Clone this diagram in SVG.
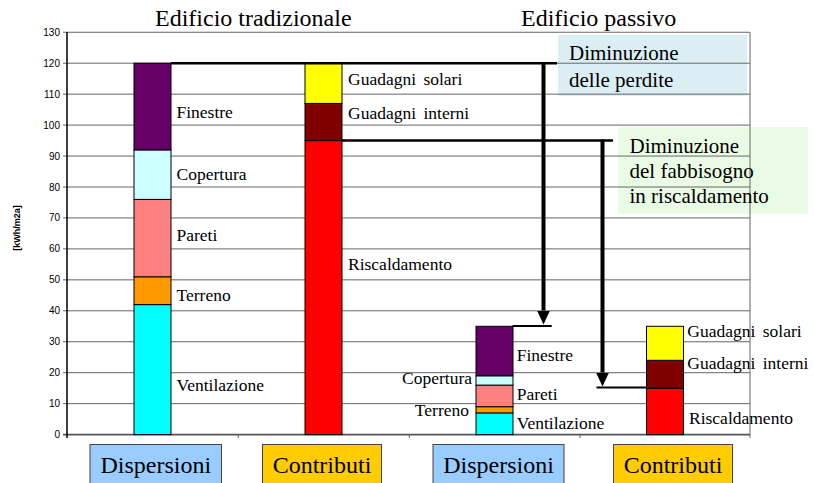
<svg xmlns="http://www.w3.org/2000/svg" width="814" height="483" viewBox="0 0 814 483">
<style>
.grid{stroke:#666;stroke-width:1;fill:none}
.axis{stroke:#000;stroke-width:1.5;fill:none}
.tick{font-family:"Liberation Sans",Arial,sans-serif;font-size:10px;fill:#000;text-anchor:end}
.ytitle{font-family:"Liberation Sans",Arial,sans-serif;font-size:9px;font-weight:bold;fill:#000;text-anchor:middle}
.lbl{font-family:"Liberation Serif","Times New Roman",serif;font-size:17.5px;fill:#000}
.ttl{font-family:"Liberation Serif","Times New Roman",serif;font-size:24px;fill:#000}
.box{font-family:"Liberation Serif","Times New Roman",serif;font-size:21px;fill:#000}
.cat{font-family:"Liberation Serif","Times New Roman",serif;font-size:24px;fill:#000;text-anchor:middle}
.seg{stroke:#000;stroke-width:1}
.thick{stroke:#000;fill:none}
.catbox{stroke:#444;stroke-width:1}
</style>
<defs>
<marker id="ah" markerUnits="userSpaceOnUse" markerWidth="14" markerHeight="14" refX="0" refY="6.5" orient="auto" viewBox="0 0 14 13">
<path d="M0,0 L14,6.5 L0,13 Z" fill="#000"/>
</marker>
</defs>
<rect width="814" height="483" fill="#fff"/>

<g id="titles">
<text class="ttl" x="155" y="26">Edificio tradizionale</text>
<text class="ttl" x="521" y="26">Edificio passivo</text>
</g>

<g id="note-perdite-bg"><rect x="558" y="35" width="189" height="61" fill="#DBEEF3"/></g>
<g id="note-fabbisogno-bg"><rect x="618" y="127" width="190" height="87" fill="#EAFBE5"/></g>

<g id="grid">
<line class="grid" x1="63" y1="32.25" x2="750" y2="32.25"/>
<line class="grid" x1="63" y1="63.2" x2="750" y2="63.2"/>
<line class="grid" x1="63" y1="94.15" x2="750" y2="94.15"/>
<line class="grid" x1="63" y1="125.1" x2="750" y2="125.1"/>
<line class="grid" x1="63" y1="156.05" x2="750" y2="156.05"/>
<line class="grid" x1="63" y1="187" x2="750" y2="187"/>
<line class="grid" x1="63" y1="217.95" x2="750" y2="217.95"/>
<line class="grid" x1="63" y1="248.9" x2="750" y2="248.9"/>
<line class="grid" x1="63" y1="279.85" x2="750" y2="279.85"/>
<line class="grid" x1="63" y1="310.8" x2="750" y2="310.8"/>
<line class="grid" x1="63" y1="341.75" x2="750" y2="341.75"/>
<line class="grid" x1="63" y1="372.7" x2="750" y2="372.7"/>
<line class="grid" x1="63" y1="403.65" x2="750" y2="403.65"/>
<line class="grid" x1="750" y1="32.25" x2="750" y2="434.6"/>
<line x1="63" y1="434.6" x2="750" y2="434.6" stroke="#555" stroke-width="1.8"/>
<line class="grid" x1="238.3" y1="434.6" x2="238.3" y2="438"/>
<line class="grid" x1="409.3" y1="434.6" x2="409.3" y2="438"/>
<line class="grid" x1="580" y1="434.6" x2="580" y2="438"/>
<line class="grid" x1="750" y1="434.6" x2="750" y2="438"/>
<line class="axis" x1="67" y1="32" x2="67" y2="438"/>
</g>

<g id="y-axis-labels">
<text class="tick" x="60" y="35.75">130</text>
<text class="tick" x="60" y="66.7">120</text>
<text class="tick" x="60" y="97.65">110</text>
<text class="tick" x="60" y="128.6">100</text>
<text class="tick" x="60" y="159.55">90</text>
<text class="tick" x="60" y="190.5">80</text>
<text class="tick" x="60" y="221.45">70</text>
<text class="tick" x="60" y="252.4">60</text>
<text class="tick" x="60" y="283.35">50</text>
<text class="tick" x="60" y="314.3">40</text>
<text class="tick" x="60" y="345.25">30</text>
<text class="tick" x="60" y="376.2">20</text>
<text class="tick" x="60" y="407.15">10</text>
<text class="tick" x="60" y="438.1">0</text>
<text class="ytitle" transform="translate(20,228) rotate(-90)">[kWh/m2a]</text>
</g>

<g id="bar-dispersioni-tradizionale">
<rect class="seg" x="134" y="304.6" width="37" height="130" fill="#00FFFF"/>
<rect class="seg" x="134" y="276.8" width="37" height="27.8" fill="#FF9900"/>
<rect class="seg" x="134" y="199.4" width="37" height="77.4" fill="#FF8080"/>
<rect class="seg" x="134" y="149.9" width="37" height="49.5" fill="#CCFFFF"/>
<rect class="seg" x="134" y="63.2" width="37" height="86.7" fill="#660066"/>
<text class="lbl" x="176.5" y="118">Finestre</text>
<text class="lbl" x="176.5" y="179.5">Copertura</text>
<text class="lbl" x="176.5" y="241">Pareti</text>
<text class="lbl" x="176.5" y="300.5">Terreno</text>
<text class="lbl" x="176.5" y="391">Ventilazione</text>
</g>

<g id="bar-contributi-tradizionale">
<rect class="seg" x="305" y="140.6" width="37" height="294" fill="#FF0000"/>
<rect class="seg" x="305" y="103.4" width="37" height="37.2" fill="#800000"/>
<rect class="seg" x="305" y="63.2" width="37" height="40.2" fill="#FFFF00"/>
<text class="lbl" x="348" y="85.3" word-spacing="3">Guadagni solari</text>
<text class="lbl" x="348" y="119" word-spacing="3">Guadagni interni</text>
<text class="lbl" x="348" y="269.5">Riscaldamento</text>
</g>

<g id="bar-dispersioni-passivo">
<rect class="seg" x="476" y="412.9" width="37" height="21.7" fill="#00FFFF"/>
<rect class="seg" x="476" y="406.7" width="37" height="6.2" fill="#FF9900"/>
<rect class="seg" x="476" y="385.1" width="37" height="21.6" fill="#FF8080"/>
<rect class="seg" x="476" y="375.8" width="37" height="9.3" fill="#CCFFFF"/>
<rect class="seg" x="476" y="326.3" width="37" height="49.5" fill="#660066"/>
<text class="lbl" x="516.7" y="361">Finestre</text>
<text class="lbl" x="472" y="384" text-anchor="end">Copertura</text>
<text class="lbl" x="516.7" y="399.5">Pareti</text>
<text class="lbl" x="469" y="415.5" text-anchor="end">Terreno</text>
<text class="lbl" x="516.7" y="429">Ventilazione</text>
</g>

<g id="bar-contributi-passivo">
<rect class="seg" x="646.5" y="388.2" width="37" height="46.4" fill="#FF0000"/>
<rect class="seg" x="646.5" y="360.3" width="37" height="27.9" fill="#800000"/>
<rect class="seg" x="646.5" y="326.3" width="37" height="34" fill="#FFFF00"/>
<text class="lbl" x="687.3" y="336.7" word-spacing="3">Guadagni solari</text>
<text class="lbl" x="687.3" y="368.7" word-spacing="3">Guadagni interni</text>
<text class="lbl" x="689" y="424">Riscaldamento</text>
</g>

<g id="connectors">
<line class="thick" x1="171" y1="63.2" x2="557" y2="63.2" stroke-width="2.5"/>
<line class="thick" x1="543.5" y1="62" x2="543.5" y2="310.5" stroke-width="4" marker-end="url(#ah)"/>
<line class="thick" x1="512.5" y1="326" x2="551.7" y2="326" stroke-width="2.2"/>
<line class="thick" x1="342" y1="140.6" x2="613" y2="140.6" stroke-width="2.5"/>
<line class="thick" x1="602.5" y1="139.5" x2="602.5" y2="372.5" stroke-width="4" marker-end="url(#ah)"/>
<line class="thick" x1="596.5" y1="387.5" x2="646.5" y2="387.5" stroke-width="2.2"/>
</g>

<g id="note-perdite">
<text class="box" x="569" y="59.5">Diminuzione</text>
<text class="box" x="569" y="86.5">delle perdite</text>
</g>
<g id="note-fabbisogno">
<text class="box" x="629.5" y="152.5">Diminuzione</text>
<text class="box" x="629.5" y="177.5">del fabbisogno</text>
<text class="box" x="629.5" y="202.5">in riscaldamento</text>
</g>

<g id="cat-dispersioni-1"><rect class="catbox" x="90" y="444.5" width="131.5" height="45" fill="#99CCFF"/><text class="cat" x="155.75" y="472.5">Dispersioni</text></g>
<g id="cat-contributi-1"><rect class="catbox" x="262.5" y="444.5" width="119" height="45" fill="#FFCC00"/><text class="cat" x="322" y="472.5">Contributi</text></g>
<g id="cat-dispersioni-2"><rect class="catbox" x="433" y="444.5" width="131" height="45" fill="#99CCFF"/><text class="cat" x="498.5" y="472.5">Dispersioni</text></g>
<g id="cat-contributi-2"><rect class="catbox" x="613.5" y="444.5" width="119" height="45" fill="#FFCC00"/><text class="cat" x="673" y="472.5">Contributi</text></g>
</svg>
